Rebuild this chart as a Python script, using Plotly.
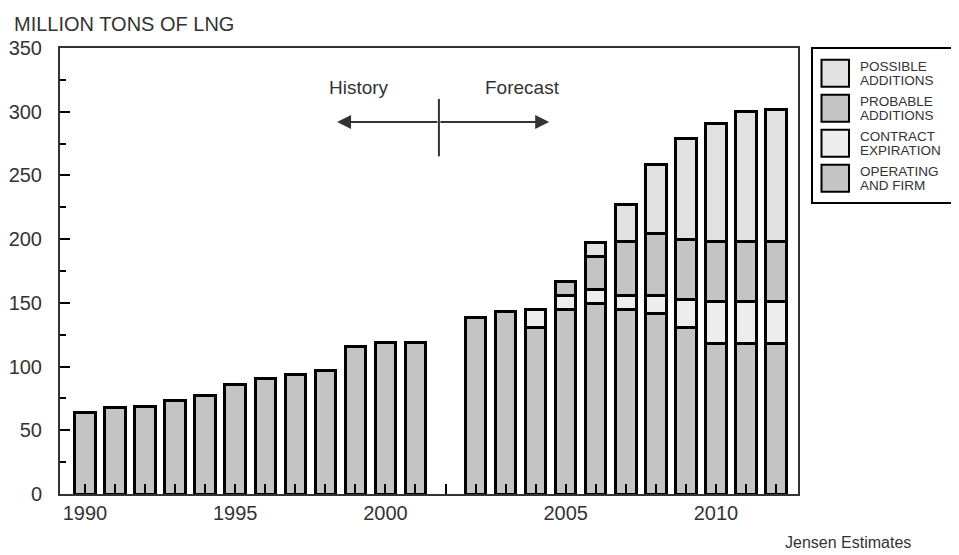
import plotly.graph_objects as go

# ---------------- data ----------------
categories = [str(y) for y in range(1990, 2002)] + [" "] + [str(y) for y in range(2002, 2013)]
tick_labels = {"1990": "1990", "1995": "1995", "2000": "2000", "2005": "2005", "2010": "2010"}

operating = [64, 67.5, 69, 73.5, 77, 86, 91, 94, 97, 116, 119, 119,
             None,
             138.5, 143, 131, 145, 149.5, 145, 142, 131, 118, 118, 118]
contract = [None] * 12 + [None] + [None, None, 14, 11, 11, 11, 14, 22, 33, 33, 33]
probable = [None] * 12 + [None] + [None, None, None, 11, 26, 42.5, 48.5, 47, 47, 47, 47]
possible = [None] * 12 + [None] + [None, None, None, None, 11, 28.5, 54, 79, 93, 102.5, 104]

series_names = [("OPERATING", "AND FIRM"), ("CONTRACT", "EXPIRATION"),
                ("PROBABLE", "ADDITIONS"), ("POSSIBLE", "ADDITIONS")]
series_values = [operating, contract, probable, possible]
series_colors = ["#c4c4c4", "#ededed", "#c4c4c4", "#e1e1e1"]

# ---------------- layout constants ----------------
# the page has an 8px body margin, so the figure is drawn 8px smaller
OFF = 8
W, H = 959 - OFF, 555 - OFF
PL, PR, PT, PB = 60, 798, 48, 494          # plot-area edges in window pixels
ML, MR, MT, MB = PL - OFF, 959 - PR, PT - OFF, 555 - PB
PW, PH = PR - PL, PB - PT
FONT = "Liberation Sans, Arial, Helvetica, sans-serif"
TXT = "#333333"


def px_x(px):
    return (px - PL) / PW


def px_y(py):
    return (PB - py) / PH


fig = go.Figure()
for (l1, l2), vals, col in zip(series_names, series_values, series_colors):
    fig.add_trace(go.Bar(
        x=categories, y=vals, name=f"{l1} {l2}", width=0.68,
        marker=dict(color=col, line=dict(color="black", width=3)),
        showlegend=False,
    ))

fig.update_layout(
    width=W, height=H,
    margin=dict(l=ML, r=MR, t=MT, b=MB, autoexpand=False),
    barmode="stack",
    plot_bgcolor="white", paper_bgcolor="white",
    font=dict(family=FONT, color=TXT),
)

fig.update_xaxes(
    type="category", categoryorder="array", categoryarray=categories,
    range=[-0.83, 23.73], automargin=False,
    tickmode="array", tickvals=categories,
    ticktext=[tick_labels.get(c, "") for c in categories],
    ticks="inside", ticklen=10, tickwidth=2, tickcolor="black",
    tickfont=dict(size=20, color=TXT, family=FONT),
    showline=True, linecolor="#333333", linewidth=2, mirror=True,
    showgrid=False, zeroline=False, layer="above traces",
)
fig.update_yaxes(
    range=[0, 350], tickmode="linear", tick0=0, dtick=50, automargin=False,
    ticks="inside", ticklen=10, tickwidth=2, tickcolor="black",
    minor=dict(dtick=25, ticks="inside", ticklen=6, tickwidth=2, tickcolor="black", showgrid=False),
    tickfont=dict(size=20, color=TXT, family=FONT),
    ticklabelstandoff=12,
    showline=True, linecolor="#333333", linewidth=2, mirror=True,
    showgrid=False, zeroline=False,
)

# History / Forecast divider and arrows
div_x = 11.78
fig.add_shape(type="line", xref="x", yref="y", x0=div_x, x1=div_x, y0=265, y1=310,
              line=dict(color=TXT, width=2))
for tip in (8.39, 15.45):
    fig.add_annotation(x=tip, y=292, xref="x", yref="y", ax=div_x, ay=292,
                       axref="x", ayref="y", text="", showarrow=True,
                       arrowhead=2, arrowsize=1.4, arrowwidth=2, arrowcolor=TXT)
fig.add_annotation(x=9.12, y=319, xref="x", yref="y", text="History", showarrow=False,
                   font=dict(size=19, color=TXT, family=FONT))
fig.add_annotation(x=14.55, y=319, xref="x", yref="y", text="Forecast", showarrow=False,
                   font=dict(size=19, color=TXT, family=FONT))

# Title and source
fig.add_annotation(x=px_x(12), y=px_y(24), xref="paper", yref="paper", xanchor="left",
                   yanchor="middle", text="MILLION TONS OF LNG", showarrow=False,
                   font=dict(size=20, color=TXT, family=FONT))
fig.add_annotation(x=px_x(913), y=px_y(542), xref="paper", yref="paper", xanchor="right",
                   yanchor="middle", text="Jensen Estimates", showarrow=False,
                   font=dict(size=16, color=TXT, family=FONT))

# Legend box (drawn by hand, top entry first)
fig.add_shape(type="rect", xref="paper", yref="paper",
              x0=px_x(812), x1=px_x(956), y0=px_y(48), y1=px_y(203),
              line=dict(color="black", width=2), fillcolor="white", layer="above")
legend_order = [3, 2, 1, 0]
for i, k in enumerate(legend_order):
    cy = 73.3 + i * 35
    fig.add_shape(type="rect", xref="paper", yref="paper",
                  x0=px_x(821.5), x1=px_x(849), y0=px_y(cy - 13.5), y1=px_y(cy + 13.5),
                  line=dict(color="black", width=2), fillcolor=series_colors[k], layer="above")
    for dy, line_txt in zip((-7.3, 7.3), series_names[k]):
        fig.add_annotation(x=px_x(859), y=px_y(cy + dy), xref="paper", yref="paper",
                           xanchor="left", yanchor="middle", align="left",
                           text=line_txt, showarrow=False, borderpad=0,
                           font=dict(size=13.5, color=TXT, family=FONT))

fig.write_html("out.html")
